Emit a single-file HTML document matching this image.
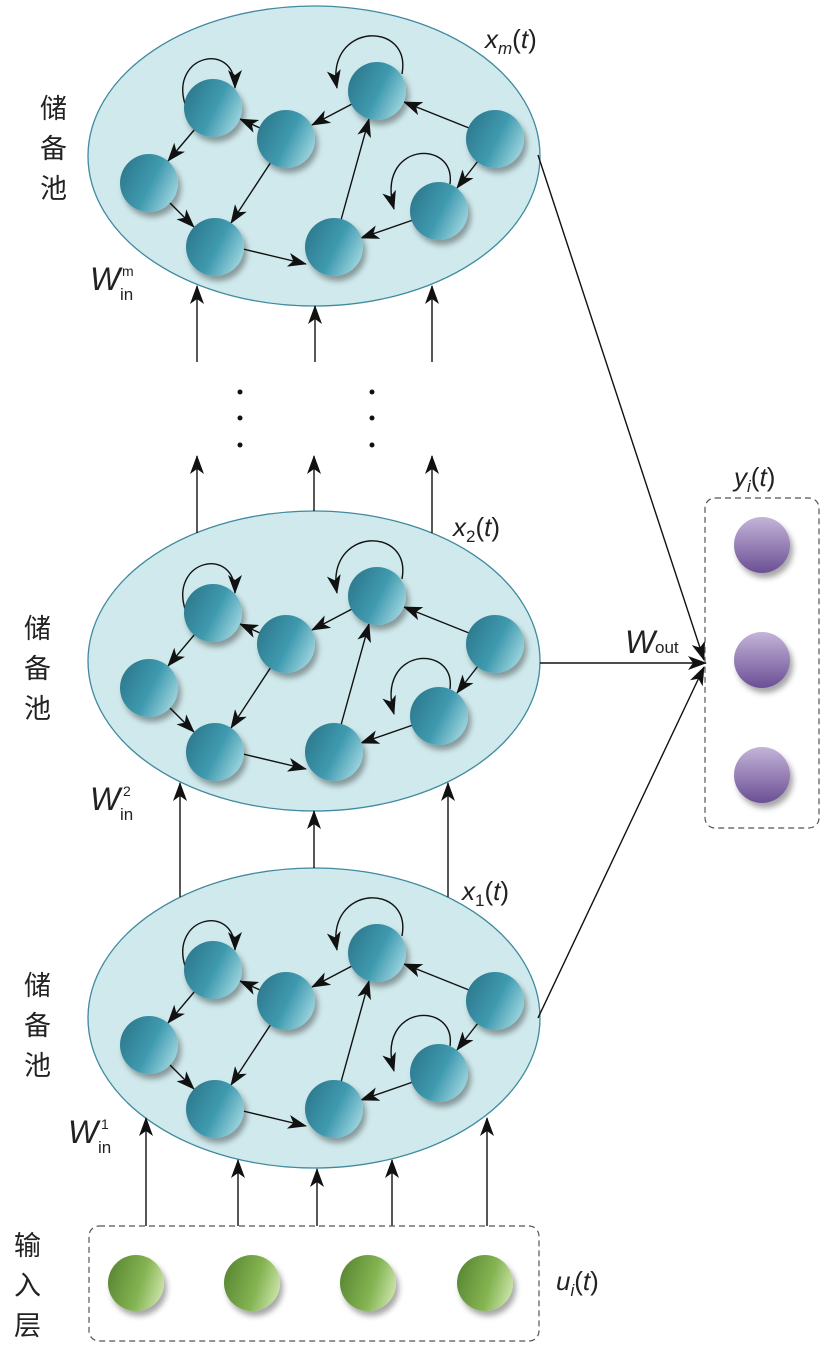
<!DOCTYPE html>
<html><head><meta charset="utf-8"><style>
html,body{margin:0;padding:0;background:#fff}
svg{display:block}
text{font-family:"Liberation Sans","Noto Sans CJK SC",sans-serif;fill:#222}
.cn{font-size:27px;font-family:"Liberation Sans","Noto Sans CJK SC",sans-serif}
.it{font-style:italic}
</style></head><body>
<svg width="829" height="1358" viewBox="0 0 829 1358" xmlns="http://www.w3.org/2000/svg">
<defs>
<marker id="ah" markerUnits="userSpaceOnUse" markerWidth="19" markerHeight="14" refX="18" refY="7" orient="auto">
<path d="M0,0 L19,7 L0,14 L5,7 Z" fill="#111"/></marker>
<linearGradient id="tg" x1="0" y1="0.2" x2="1" y2="0.7">
<stop offset="0" stop-color="#2c778c"/><stop offset="0.55" stop-color="#3f9aaf"/><stop offset="1" stop-color="#9fd6e0"/></linearGradient>
<linearGradient id="pg" x1="0" y1="0" x2="0" y2="1">
<stop offset="0" stop-color="#c4b4d8"/><stop offset="1" stop-color="#6b4f95"/></linearGradient>
<linearGradient id="gg" x1="0" y1="0.3" x2="1" y2="0.6">
<stop offset="0" stop-color="#5a8733"/><stop offset="0.6" stop-color="#84b452"/><stop offset="1" stop-color="#c9e2a6"/></linearGradient>
<filter id="sh" x="-40%" y="-40%" width="190%" height="190%"><feDropShadow dx="3" dy="5" stdDeviation="3" flood-color="#000" flood-opacity="0.35"/></filter>
<g id="res">
<g stroke="#111" stroke-width="1.4" fill="none" marker-end="url(#ah)">
<line x1="195" y1="129" x2="168" y2="161"/>
<line x1="260" y1="128" x2="240" y2="119"/>
<line x1="271" y1="162" x2="231" y2="223"/>
<line x1="352" y1="104" x2="312" y2="125"/>
<line x1="469" y1="128" x2="404" y2="102"/>
<line x1="478" y1="161" x2="457" y2="188"/>
<line x1="413" y1="220" x2="361" y2="238"/>
<line x1="169" y1="202" x2="194" y2="227"/>
<line x1="243" y1="249" x2="306" y2="264"/>
<line x1="341" y1="220" x2="369" y2="119"/>
<path d="M185,104 C170,55 235,40 235,88"/>
<path d="M402,74 C412,20 325,22 337,88"/>
<path d="M450,184 C456,138 375,142 394,209"/>
</g>
<g filter="url(#sh)" fill="url(#tg)">
<circle cx="213" cy="108" r="29"/><circle cx="286" cy="139" r="29"/>
<circle cx="377" cy="91" r="29"/><circle cx="495" cy="139" r="29"/>
<circle cx="149" cy="183" r="29"/><circle cx="439" cy="211" r="29"/>
<circle cx="215" cy="247" r="29"/><circle cx="334" cy="247" r="29"/>
</g>
</g>
</defs>

<ellipse cx="314" cy="156" rx="226" ry="150" fill="#cfe9ec" stroke="#3f8aa0" stroke-width="1.3"/>
<ellipse cx="314" cy="661" rx="226" ry="150" fill="#cfe9ec" stroke="#3f8aa0" stroke-width="1.3"/>
<ellipse cx="314" cy="1018" rx="226" ry="150" fill="#cfe9ec" stroke="#3f8aa0" stroke-width="1.3"/>
<use href="#res"/>
<use href="#res" transform="translate(0,505)"/>
<use href="#res" transform="translate(0,862)"/>

<g stroke="#111" stroke-width="1.4" marker-end="url(#ah)">
<line x1="197" y1="362" x2="197" y2="286"/>
<line x1="315" y1="362" x2="315" y2="306"/>
<line x1="432" y1="362" x2="432" y2="286"/>
<line x1="197" y1="533" x2="197" y2="456"/>
<line x1="314" y1="511" x2="314" y2="456"/>
<line x1="432" y1="533" x2="432" y2="456"/>
<line x1="180" y1="897" x2="180" y2="783"/>
<line x1="314" y1="868" x2="314" y2="811"/>
<line x1="448" y1="897" x2="448" y2="783"/>
<line x1="146" y1="1226" x2="146" y2="1118"/>
<line x1="238" y1="1226" x2="238" y2="1160"/>
<line x1="317" y1="1226" x2="317" y2="1169"/>
<line x1="392" y1="1226" x2="392" y2="1160"/>
<line x1="487" y1="1226" x2="487" y2="1118"/>
<line x1="538" y1="155" x2="704" y2="660"/>
<line x1="540" y1="663" x2="706" y2="663"/>
<line x1="538" y1="1018" x2="704" y2="667"/>
</g>
<g fill="#111">
<circle cx="240" cy="392" r="2.5"/><circle cx="240" cy="418" r="2.5"/><circle cx="240" cy="445" r="2.5"/>
<circle cx="372" cy="392" r="2.5"/><circle cx="372" cy="418" r="2.5"/><circle cx="372" cy="445" r="2.5"/>
</g>

<rect x="89" y="1226" width="450" height="115" rx="10" fill="none" stroke="#555" stroke-width="1.2" stroke-dasharray="6,4"/>
<rect x="705" y="498" width="114" height="330" rx="10" fill="none" stroke="#555" stroke-width="1.2" stroke-dasharray="6,4"/>
<g filter="url(#sh)" fill="url(#gg)">
<circle cx="136" cy="1283" r="28"/><circle cx="252" cy="1283" r="28"/>
<circle cx="368" cy="1283" r="28"/><circle cx="485" cy="1283" r="28"/>
</g>
<g filter="url(#sh)" fill="url(#pg)">
<circle cx="762" cy="545" r="28"/><circle cx="762" cy="660" r="28"/><circle cx="762" cy="775" r="28"/>
</g>

<g class="cn">
<text x="40" y="118">储</text><text x="40" y="158">备</text><text x="40" y="198">池</text>
<text x="24" y="638">储</text><text x="24" y="678">备</text><text x="24" y="718">池</text>
<text x="24" y="995">储</text><text x="24" y="1035">备</text><text x="24" y="1075">池</text>
<text x="14" y="1255">输</text><text x="14" y="1295">入</text><text x="14" y="1335">层</text>
</g>
<g font-size="26">
<text x="485" y="48"><tspan class="it">x</tspan><tspan class="it" font-size="17" dy="6">m</tspan><tspan dy="-6">(</tspan><tspan class="it">t</tspan>)</text>
<text x="453" y="536"><tspan class="it">x</tspan><tspan font-size="17" dy="6">2</tspan><tspan dy="-6">(</tspan><tspan class="it">t</tspan>)</text>
<text x="462" y="900"><tspan class="it">x</tspan><tspan font-size="17" dy="6">1</tspan><tspan dy="-6">(</tspan><tspan class="it">t</tspan>)</text>
<text x="734" y="486"><tspan class="it">y</tspan><tspan class="it" font-size="17" dy="6">i</tspan><tspan dy="-6">(</tspan><tspan class="it">t</tspan>)</text>
<text x="556" y="1290"><tspan class="it">u</tspan><tspan class="it" font-size="17" dy="6">i</tspan><tspan dy="-6">(</tspan><tspan class="it">t</tspan>)</text>
</g>
<g>
<text x="90" y="290" font-size="32" class="it">W</text><text x="120" y="300" font-size="17">in</text><text x="122" y="276" font-size="14">m</text>
<text x="90" y="810" font-size="32" class="it">W</text><text x="120" y="820" font-size="17">in</text><text x="123" y="796" font-size="14">2</text>
<text x="68" y="1143" font-size="32" class="it">W</text><text x="98" y="1153" font-size="17">in</text><text x="101" y="1129" font-size="14">1</text>
<text x="625" y="653" font-size="32" class="it">W</text><text x="655" y="653" font-size="17">out</text>
</g>
</svg>
</body></html>
